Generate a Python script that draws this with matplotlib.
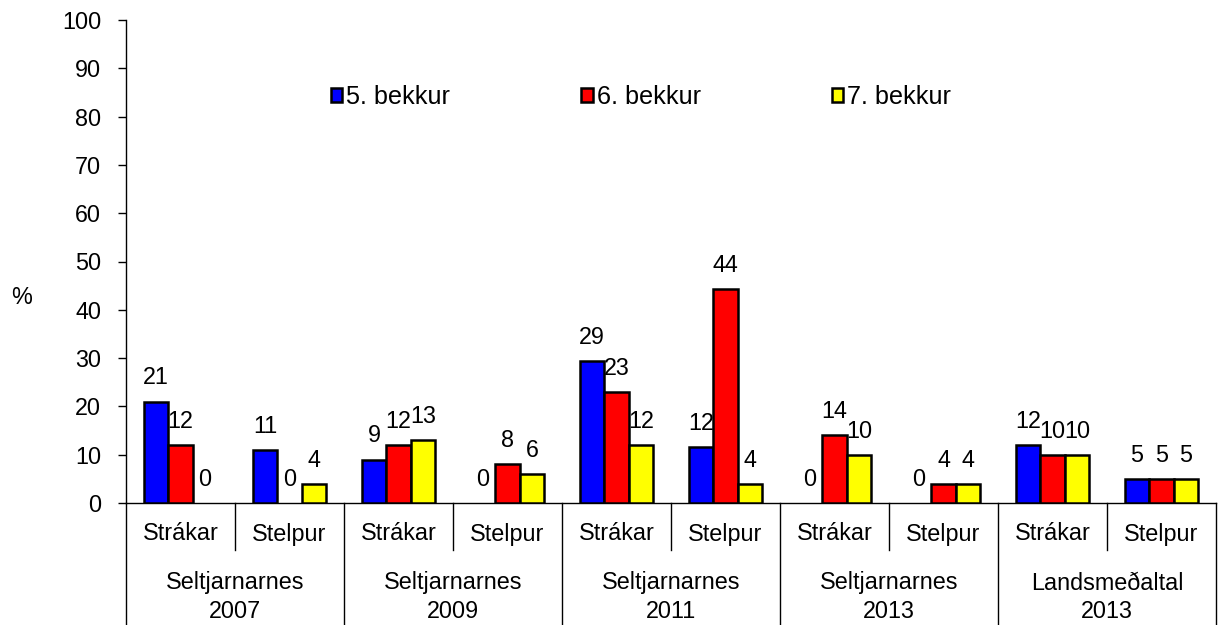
import numpy as np
import matplotlib
matplotlib.use("Agg")
import matplotlib.pyplot as plt
from matplotlib.patches import Patch

plt.rcParams['font.family'] = ['Liberation Sans', 'DejaVu Sans']

# data
categories = ['Strákar', 'Stelpur'] * 5
groups = ['Seltjarnarnes\n2007', 'Seltjarnarnes\n2009', 'Seltjarnarnes\n2011',
          'Seltjarnarnes\n2013', 'Landsmeðaltal\n2013']
series_names = ['5. bekkur', '6. bekkur', '7. bekkur']
bekkur5 = [21, 11, 9, 0, 29.4, 11.6, 0, 0, 12, 5]
bekkur6 = [12, 0, 12, 8, 23, 44.3, 14, 4, 10, 5]
bekkur7 = [0, 4, 13, 6, 12, 4, 10, 4, 10, 5]
colors = ['#0000FF', '#FF0000', '#FFFF00']

FS = 16.8

fig = plt.figure(figsize=(12.19, 6.25), dpi=100)
ax = fig.add_axes([126/1219, 122/625, 1090/1219, 483/625])

x = np.arange(len(categories)) + 0.5
w = 0.225
for i, (vals, col, name) in enumerate(zip([bekkur5, bekkur6, bekkur7], colors, series_names)):
    b = ax.bar(x + (i - 1) * w, vals, width=w, color=col, edgecolor='black',
               linewidth=1.8, label=name, zorder=3)
    # zero bars: no outline line on the base
    for p, v in zip(b.patches, vals):
        if v == 0:
            p.set_linewidth(0)
    for xi, v in zip(x + (i - 1) * w, vals):
        ax.annotate(f'{v:.0f}', (xi, v), xytext=(0, 17), textcoords='offset points',
                    ha='center', va='center', fontsize=FS)

ax.set_xlim(0, len(categories))
ax.set_ylim(0, 100)
ax.set_yticks(range(0, 101, 10))
ax.tick_params(axis='y', length=6, width=1, pad=12, labelsize=FS)
ax.set_xticks([])
ax.spines['top'].set_visible(False)
ax.spines['right'].set_visible(False)
ax.spines['left'].set_linewidth(1)
ax.spines['bottom'].set_linewidth(1)

# category separators below the axis
tr = ax.get_xaxis_transform()
for k in range(0, len(categories) + 1):
    bottom = -122/483 if k % 2 == 0 else -47/483
    ax.plot([k, k], [0, bottom], color='black', lw=1, transform=tr, clip_on=False)

for xi, c in zip(x, categories):
    ax.text(xi, -(534 - 503)/483, c, transform=tr, ha='center', va='center', fontsize=FS)

for j, g in enumerate(groups):
    line1, line2 = g.split('\n')
    ax.text(2*j + 1, -(583 - 503)/483, line1, transform=tr, ha='center', va='center', fontsize=FS)
    ax.text(2*j + 1, -(612 - 503)/483, line2, transform=tr, ha='center', va='center', fontsize=FS)

fig.text(22/1219, 1 - 298/625, '%', ha='center', va='center', fontsize=FS)

handles = [Patch(facecolor=c, edgecolor='black', linewidth=1.8) for c in colors]
fig.legend(handles, series_names, loc='center left', bbox_to_anchor=(331/1219, 1 - 97/625),
           ncol=3, frameon=False, fontsize=18.2, handlelength=0.45, handleheight=0.45,
           handletextpad=0.15, columnspacing=5.2, borderaxespad=0, borderpad=0)

fig.savefig('out.png', dpi=100)
